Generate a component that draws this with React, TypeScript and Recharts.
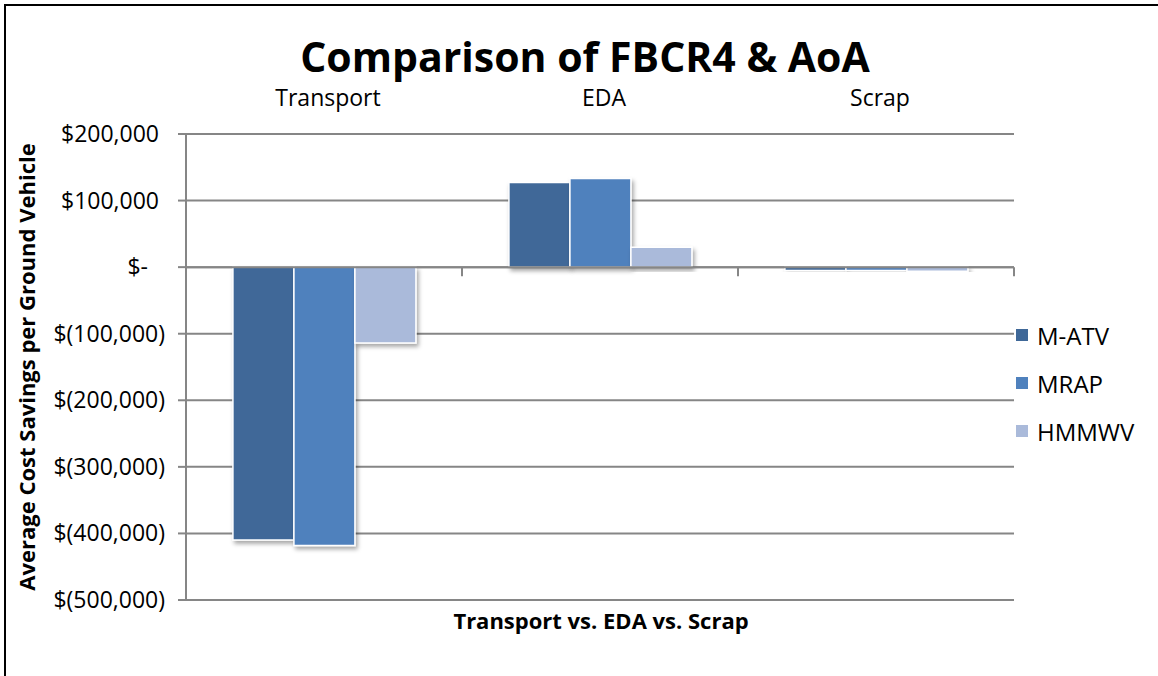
import { BarChart, Bar, XAxis, YAxis, CartesianGrid, ReferenceLine, Rectangle } from 'recharts';

const categories = ['Transport', 'EDA', 'Scrap'];
const seriesNames = ['M-ATV', 'MRAP', 'HMMWV'];
const matv = [-410000, 127000, -5000];
const mrap = [-418000, 133000, -5000];
const hmmwv = [-114000, 30000, -6000];
const yTicks = [200000, 100000, 0, -100000, -200000, -300000, -400000, -500000];

const theme = {
  grid: '#868686',
  colors: ['#3F6898', '#4F81BD', '#AABADA'],
  text: '#000000',
};
const font = '"Open Sans", Lato, sans-serif';

const data = categories.map((name, i) => ({
  name,
  matv: matv[i],
  mrap: mrap[i],
  hmmwv: hmmwv[i],
}));
const keys = ['matv', 'mrap', 'hmmwv'];

function MoneyTick({ x, y, payload }: any) {
  const v = payload.value as number;
  let label: string;
  let dx: number;
  if (v === 0) {
    label = '$-';
    dx = -28;
  } else if (v < 0) {
    label = `$(${Math.abs(v).toLocaleString('en-US')})`;
    dx = -11;
  } else {
    label = `$${v.toLocaleString('en-US')}`;
    dx = -17;
  }
  return (
    <text x={x + dx} y={y} dy={8} textAnchor="end" fontFamily={font} fontSize={23} fill={theme.text}>
      {label}
    </text>
  );
}

function CategoryTick({ x, y, payload }: any) {
  return (
    <text x={x + 4} y={y} dy={-20} textAnchor="middle" fontFamily={font} fontSize={23} fill={theme.text}>
      {payload.value}
    </text>
  );
}

// zero line of the category axis, with tick marks at the category boundaries
function ZeroAxis(props: any) {
  const { x1, y1, x2, y2 } = props;
  const step = (x2 - x1) / categories.length;
  return (
    <g>
      <line x1={x1} y1={y1} x2={x2} y2={y2} stroke={theme.grid} strokeWidth={2} />
      {Array.from({ length: categories.length + 1 }, (_, i) => (
        <line key={i} x1={x1 + i * step} y1={y1} x2={x1 + i * step} y2={y1 + 9} stroke={theme.grid} strokeWidth={2} />
      ))}
    </g>
  );
}

const ShadowBar = (props: any) => <Rectangle {...props} filter="url(#barShadow)" />;

export default function App() {
  return (
    <div style={{ position: 'absolute', left: 0, top: 0, width: 1158, height: 676, overflow: 'hidden', background: '#fff' }}>
      <div style={{ position: 'absolute', left: 4, top: 4, width: 1300, height: 800, border: '2px solid #000' }} />
      <div
        style={{
          position: 'absolute', left: 0, width: 1170, top: 29, textAlign: 'center',
          fontFamily: font, fontWeight: 700, fontSize: 41, color: theme.text, lineHeight: '54px',
        }}
      >
        Comparison of FBCR4 &amp; AoA
      </div>
      <div
        style={{
          position: 'absolute', left: 186, width: 830, top: 605, textAlign: 'center',
          fontFamily: font, fontWeight: 700, fontSize: 22, color: theme.text, lineHeight: '30px',
        }}
      >
        Transport vs. EDA vs. Scrap
      </div>
      <div style={{ position: 'absolute', left: 1016, top: 311, fontFamily: font, fontSize: 24, color: theme.text }}>
        {seriesNames.map((n, i) => (
          <div key={n} style={{ display: 'flex', alignItems: 'center', height: 48 }}>
            <span style={{ width: 12, height: 12, background: theme.colors[i], marginRight: 9, display: 'inline-block' }} />
            {n}
          </div>
        ))}
      </div>
      <div style={{ position: 'absolute', left: 0, top: 0 }}>
        <BarChart
          width={1158}
          height={676}
          data={data}
          margin={{ top: 60, right: 144, left: 10, bottom: 76 }}
          barCategoryGap="17%"
          barGap={0}
        >
          <defs>
            <filter id="barShadow" x="-20%" y="-20%" width="140%" height="140%">
              <feDropShadow dx={2} dy={3} stdDeviation={2} floodColor="#000" floodOpacity={0.35} />
            </filter>
          </defs>
          <CartesianGrid vertical={false} stroke={theme.grid} strokeWidth={2} />
          <XAxis
            dataKey="name"
            orientation="top"
            height={74}
            axisLine={false}
            tickLine={false}
            tick={<CategoryTick />}
          />
          <YAxis
            type="number"
            domain={[-500000, 200000]}
            ticks={yTicks}
            interval={0}
            width={176}
            tickSize={8}
            axisLine={{ stroke: theme.grid, strokeWidth: 2 }}
            tickLine={{ stroke: theme.grid, strokeWidth: 2 }}
            tick={<MoneyTick />}
            label={{
              value: 'Average Cost Savings per Ground Vehicle',
              angle: -90,
              position: 'insideLeft',
              offset: 17,
              style: { textAnchor: 'middle', fontFamily: font, fontWeight: 700, fontSize: 22, fill: theme.text },
            }}
          />
          {keys.map((k, i) => (
            <Bar
              key={k}
              dataKey={k}
              name={seriesNames[i]}
              fill={theme.colors[i]}
              stroke="#ffffff"
              strokeWidth={1.5}
              shape={ShadowBar}
              isAnimationActive={false}
            />
          ))}
          <ReferenceLine y={0} shape={ZeroAxis} />
        </BarChart>
      </div>
    </div>
  );
}
